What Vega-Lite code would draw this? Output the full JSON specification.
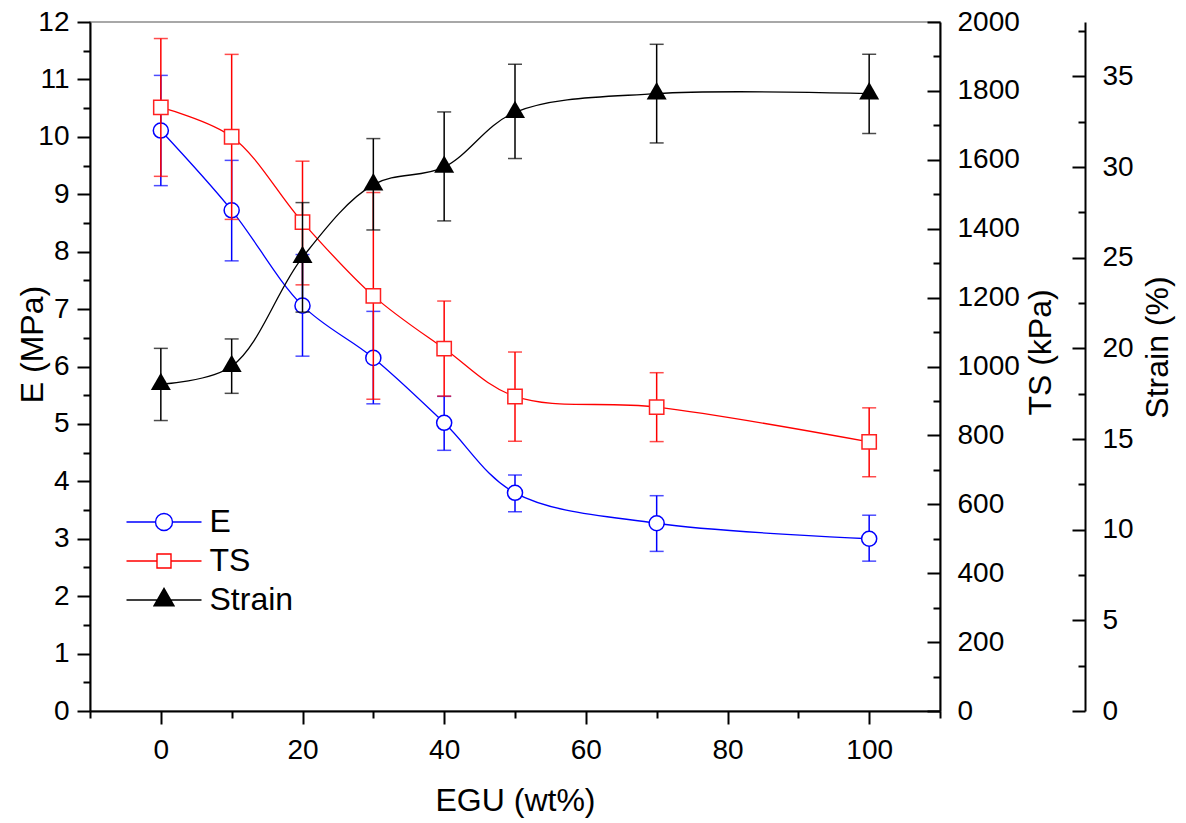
{
  "$schema": "https://vega.github.io/schema/vega-lite/v6.json",
  "autosize": "none",
  "padding": {"left": 90, "top": 22, "right": 246, "bottom": 112},
  "width": 850,
  "height": 689,
  "background": "white",
  "config": {
    "view": {"stroke": "#8c8c8c", "strokeWidth": 1.5},
    "font": "Liberation Sans",
    "axis": {
      "labelFont": "Liberation Sans", "titleFont": "Liberation Sans",
      "labelFontSize": 28, "titleFontSize": 32, "titleFontWeight": "normal",
      "labelColor": "black", "titleColor": "black", "domainColor": "black", "tickColor": "black",
      "domainWidth": 2, "tickWidth": 2, "grid": false, "labelOverlap": false, "labelFlush": false
    },
    "legend": {"labelFont": "Liberation Sans", "labelColor": "black"}
  },
  "datasets": {
    "d": [
      {"x": 0, "series": "E", "v": 10.11, "lo": 9.15, "hi": 11.07},
      {"x": 10, "series": "E", "v": 8.72, "lo": 7.84, "hi": 9.59},
      {"x": 20, "series": "E", "v": 7.06, "lo": 6.18, "hi": 7.95},
      {"x": 30, "series": "E", "v": 6.15, "lo": 5.35, "hi": 6.96},
      {"x": 40, "series": "E", "v": 5.02, "lo": 4.54, "hi": 5.48},
      {"x": 50, "series": "E", "v": 3.8, "lo": 3.47, "hi": 4.11},
      {"x": 70, "series": "E", "v": 3.27, "lo": 2.78, "hi": 3.75},
      {"x": 100, "series": "E", "v": 3.0, "lo": 2.61, "hi": 3.41},
      {"x": 0, "series": "TS", "v": 1752, "lo": 1552, "hi": 1952},
      {"x": 10, "series": "TS", "v": 1667, "lo": 1427, "hi": 1906},
      {"x": 20, "series": "TS", "v": 1419, "lo": 1237, "hi": 1596},
      {"x": 30, "series": "TS", "v": 1205, "lo": 905, "hi": 1505},
      {"x": 40, "series": "TS", "v": 1052, "lo": 914, "hi": 1190},
      {"x": 50, "series": "TS", "v": 913, "lo": 783, "hi": 1042},
      {"x": 70, "series": "TS", "v": 882, "lo": 782, "hi": 982},
      {"x": 100, "series": "TS", "v": 781, "lo": 680, "hi": 880},
      {"x": 0, "series": "Strain", "v": 18.02, "lo": 16.02, "hi": 20.0},
      {"x": 10, "series": "Strain", "v": 19.01, "lo": 17.52, "hi": 20.52},
      {"x": 20, "series": "Strain", "v": 25.02, "lo": 22.0, "hi": 28.04},
      {"x": 30, "series": "Strain", "v": 29.03, "lo": 26.53, "hi": 31.57},
      {"x": 40, "series": "Strain", "v": 30.0, "lo": 27.03, "hi": 33.04},
      {"x": 50, "series": "Strain", "v": 33.02, "lo": 30.47, "hi": 35.67},
      {"x": 70, "series": "Strain", "v": 34.05, "lo": 31.33, "hi": 36.77},
      {"x": 100, "series": "Strain", "v": 34.05, "lo": 31.85, "hi": 36.22}
    ]
  },
  "data": {"name": "d"},
  "resolve": {"scale": {"y": "independent"}, "axis": {"x": "independent", "y": "independent"}},
  "layer": [
    {
      "transform": [{"filter": "datum.series === 'E'"}],
      "resolve": {"axis": {"x": "independent", "y": "independent"}},
      "layer": [
        {
          "mark": {"type": "line", "color": "#0000FF", "strokeWidth": 1.3, "interpolate": "catmull-rom"},
          "encoding": {
            "x": {"field": "x", "type": "quantitative", "scale": {"domain": [-10, 110], "nice": false},
              "axis": {
                "orient": "bottom",
                "values": [0, 20, 40, 60, 80, 100],
                "tickSize": 13,
                "labelPadding": 12,
                "title": "EGU (wt%)", "titleY": 99, "titleBaseline": "alphabetic"
              }},
            "y": {"field": "v", "type": "quantitative", "scale": {"domain": [0, 12], "nice": false},
              "axis": {
                "orient": "left",
                "values": [0, 1, 2, 3, 4, 5, 6, 7, 8, 9, 10, 11, 12],
                "tickSize": 13,
                "labelPadding": 8,
                "title": "E (MPa)", "titleAngle": 270, "titleX": -48, "titleY": 322, "titleBaseline": "alphabetic", "titleAlign": "center"
              }}
          }
        },
        {
          "mark": {"type": "rule", "color": "#0000FF", "strokeWidth": 1.5},
          "encoding": {
            "x": {"field": "x", "type": "quantitative", "scale": {"domain": [-10, 110], "nice": false},
              "axis": {"orient": "bottom", "values": [-10, 10, 30, 50, 70, 90, 110], "tickSize": 7, "labels": false, "domain": false, "title": null}},
            "y": {"field": "lo", "type": "quantitative", "scale": {"domain": [0, 12], "nice": false},
              "axis": {"orient": "left", "values": [0.5, 1.5, 2.5, 3.5, 4.5, 5.5, 6.5, 7.5, 8.5, 9.5, 10.5, 11.5], "tickSize": 7, "labels": false, "domain": false, "title": null}},
            "y2": {"field": "hi"}
          }
        },
        {
          "mark": {"type": "tick", "orient": "horizontal", "color": "#0000FF", "size": 14, "thickness": 1.5},
          "encoding": {
            "x": {"field": "x", "type": "quantitative", "scale": {"domain": [-10, 110], "nice": false}, "axis": null},
            "y": {"field": "lo", "type": "quantitative", "scale": {"domain": [0, 12], "nice": false}, "axis": null}
          }
        },
        {
          "mark": {"type": "tick", "orient": "horizontal", "color": "#0000FF", "size": 14, "thickness": 1.5},
          "encoding": {
            "x": {"field": "x", "type": "quantitative", "scale": {"domain": [-10, 110], "nice": false}, "axis": null},
            "y": {"field": "hi", "type": "quantitative", "scale": {"domain": [0, 12], "nice": false}, "axis": null}
          }
        },
        {
          "mark": {"type": "point", "shape": "circle", "size": 227, "filled": true, "fill": "#FFFFFF", "stroke": "#0000FF", "strokeWidth": 1.5, "opacity": 1},
          "encoding": {
            "x": {"field": "x", "type": "quantitative", "scale": {"domain": [-10, 110], "nice": false}, "axis": null},
            "y": {"field": "v", "type": "quantitative", "scale": {"domain": [0, 12], "nice": false}, "axis": null}
          }
        }
      ]
    },
    {
      "transform": [{"filter": "datum.series === 'TS'"}],
      "resolve": {"axis": {"y": "independent"}},
      "layer": [
        {
          "mark": {"type": "line", "color": "#FF0000", "strokeWidth": 1.3, "interpolate": "catmull-rom"},
          "encoding": {
            "x": {"field": "x", "type": "quantitative", "scale": {"domain": [-10, 110], "nice": false}, "axis": null},
            "y": {"field": "v", "type": "quantitative", "scale": {"domain": [0, 2000], "nice": false},
              "axis": {
                "orient": "right",
                "values": [0, 200, 400, 600, 800, 1000, 1200, 1400, 1600, 1800, 2000],
                "format": "d",
                "tickSize": -13,
                "labelPadding": 30,
                "title": "TS (kPa)", "titleAngle": 270, "titleX": 110, "titleY": 330, "titleBaseline": "alphabetic", "titleAlign": "center"
              }}
          }
        },
        {
          "mark": {"type": "rule", "color": "#FF0000", "strokeWidth": 1.5},
          "encoding": {
            "x": {"field": "x", "type": "quantitative", "scale": {"domain": [-10, 110], "nice": false}, "axis": null},
            "y": {"field": "lo", "type": "quantitative", "scale": {"domain": [0, 2000], "nice": false},
              "axis": {"orient": "right", "values": [100, 300, 500, 700, 900, 1100, 1300, 1500, 1700, 1900], "tickSize": -7, "labels": false, "domain": false, "title": null}},
            "y2": {"field": "hi"}
          }
        },
        {
          "mark": {"type": "tick", "orient": "horizontal", "color": "#FF0000", "size": 14, "thickness": 1.5},
          "encoding": {
            "x": {"field": "x", "type": "quantitative", "scale": {"domain": [-10, 110], "nice": false}, "axis": null},
            "y": {"field": "lo", "type": "quantitative", "scale": {"domain": [0, 2000], "nice": false}, "axis": null}
          }
        },
        {
          "mark": {"type": "tick", "orient": "horizontal", "color": "#FF0000", "size": 14, "thickness": 1.5},
          "encoding": {
            "x": {"field": "x", "type": "quantitative", "scale": {"domain": [-10, 110], "nice": false}, "axis": null},
            "y": {"field": "hi", "type": "quantitative", "scale": {"domain": [0, 2000], "nice": false}, "axis": null}
          }
        },
        {
          "mark": {"type": "point", "shape": "square", "size": 205, "filled": true, "fill": "#FFFFFF", "stroke": "#FF2020", "strokeWidth": 1.5, "opacity": 1},
          "encoding": {
            "x": {"field": "x", "type": "quantitative", "scale": {"domain": [-10, 110], "nice": false}, "axis": null},
            "y": {"field": "v", "type": "quantitative", "scale": {"domain": [0, 2000], "nice": false}, "axis": null}
          }
        }
      ]
    },
    {
      "transform": [{"filter": "datum.series === 'Strain'"}],
      "resolve": {"axis": {"y": "independent"}},
      "layer": [
        {
          "mark": {"type": "line", "color": "#000000", "strokeWidth": 1.3, "interpolate": "catmull-rom"},
          "encoding": {
            "x": {"field": "x", "type": "quantitative", "scale": {"domain": [-10, 110], "nice": false}, "axis": null},
            "y": {"field": "v", "type": "quantitative", "scale": {"domain": [0, 38], "nice": false},
              "axis": {
                "orient": "right", "offset": 145,
                "values": [0, 5, 10, 15, 20, 25, 30, 35],
                "tickSize": -13,
                "labelPadding": 30,
                "title": "Strain (%)", "titleAngle": 270, "titleX": 82, "titleY": 325, "titleBaseline": "alphabetic", "titleAlign": "center"
              }}
          }
        },
        {
          "mark": {"type": "rule", "color": "#000000", "strokeWidth": 1.5},
          "encoding": {
            "x": {"field": "x", "type": "quantitative", "scale": {"domain": [-10, 110], "nice": false}, "axis": null},
            "y": {"field": "lo", "type": "quantitative", "scale": {"domain": [0, 38], "nice": false},
              "axis": {"orient": "right", "offset": 145, "values": [2.5, 7.5, 12.5, 17.5, 22.5, 27.5, 32.5, 37.5], "tickSize": -7, "labels": false, "domain": false, "title": null}},
            "y2": {"field": "hi"}
          }
        },
        {
          "mark": {"type": "tick", "orient": "horizontal", "color": "#000000", "size": 14, "thickness": 1.5},
          "encoding": {
            "x": {"field": "x", "type": "quantitative", "scale": {"domain": [-10, 110], "nice": false}, "axis": null},
            "y": {"field": "lo", "type": "quantitative", "scale": {"domain": [0, 38], "nice": false}, "axis": null}
          }
        },
        {
          "mark": {"type": "tick", "orient": "horizontal", "color": "#000000", "size": 14, "thickness": 1.5},
          "encoding": {
            "x": {"field": "x", "type": "quantitative", "scale": {"domain": [-10, 110], "nice": false}, "axis": null},
            "y": {"field": "hi", "type": "quantitative", "scale": {"domain": [0, 38], "nice": false}, "axis": null}
          }
        },
        {
          "mark": {"type": "point", "shape": "M0,-1.155L1,0.577H-1Z", "size": 400, "filled": true, "fill": "#000000", "strokeWidth": 0, "opacity": 1},
          "encoding": {
            "x": {"field": "x", "type": "quantitative", "scale": {"domain": [-10, 110], "nice": false}, "axis": null},
            "y": {"field": "v", "type": "quantitative", "scale": {"domain": [0, 38], "nice": false}, "axis": null}
          }
        }
      ]
    },
    {
      "mark": {"type": "point", "opacity": 0, "filled": false},
      "encoding": {
        "x": {"field": "x", "type": "quantitative", "scale": {"domain": [-10, 110], "nice": false}, "axis": null},
        "y": {"field": "v", "type": "quantitative", "axis": null},
        "shape": {"field": "series", "type": "nominal",
          "scale": {"domain": ["E", "TS", "Strain"], "range": [
            "M-3.75,0H-0.85M0.85,0H3.75M-0.85,0A0.85,0.85,0,1,0,0.85,0A0.85,0.85,0,1,0,-0.85,0Z",
            "M-3.75,0H-0.7M0.7,0H3.75M-0.7,-0.7H0.7V0.7H-0.7Z",
            "M-3.75,0H3.75M0,-1.155L1,0.577H-1ZM-0.03,-1.1H0.03M-0.09,-1H0.09M-0.15,-0.9H0.15M-0.2,-0.8H0.2M-0.26,-0.7H0.26M-0.32,-0.6H0.32M-0.38,-0.5H0.38M-0.44,-0.4H0.44M-0.49,-0.3H0.49M-0.55,-0.2H0.55M-0.61,-0.1H0.61M-0.67,0H0.67M-0.72,0.1H0.72M-0.78,0.2H0.78M-0.84,0.3H0.84M-0.9,0.4H0.9M-0.96,0.5H0.96"
          ]},
          "legend": {"orient": "none", "legendX": 58, "legendY": 484, "title": null, "symbolSize": 400, "labelFontSize": 32, "labelOffset": 29.5, "rowPadding": 7, "symbolStrokeWidth": 1.4, "padding": 0}},
        "stroke": {"field": "series", "type": "nominal",
          "scale": {"domain": ["E", "TS", "Strain"], "range": ["#0000FF", "#FF0000", "#000000"]},
          "legend": {"orient": "none", "legendX": 58, "legendY": 484, "title": null, "symbolSize": 400, "labelFontSize": 32, "labelOffset": 29.5, "rowPadding": 7, "symbolStrokeWidth": 1.4, "padding": 0}}
      }
    }
  ]
}
